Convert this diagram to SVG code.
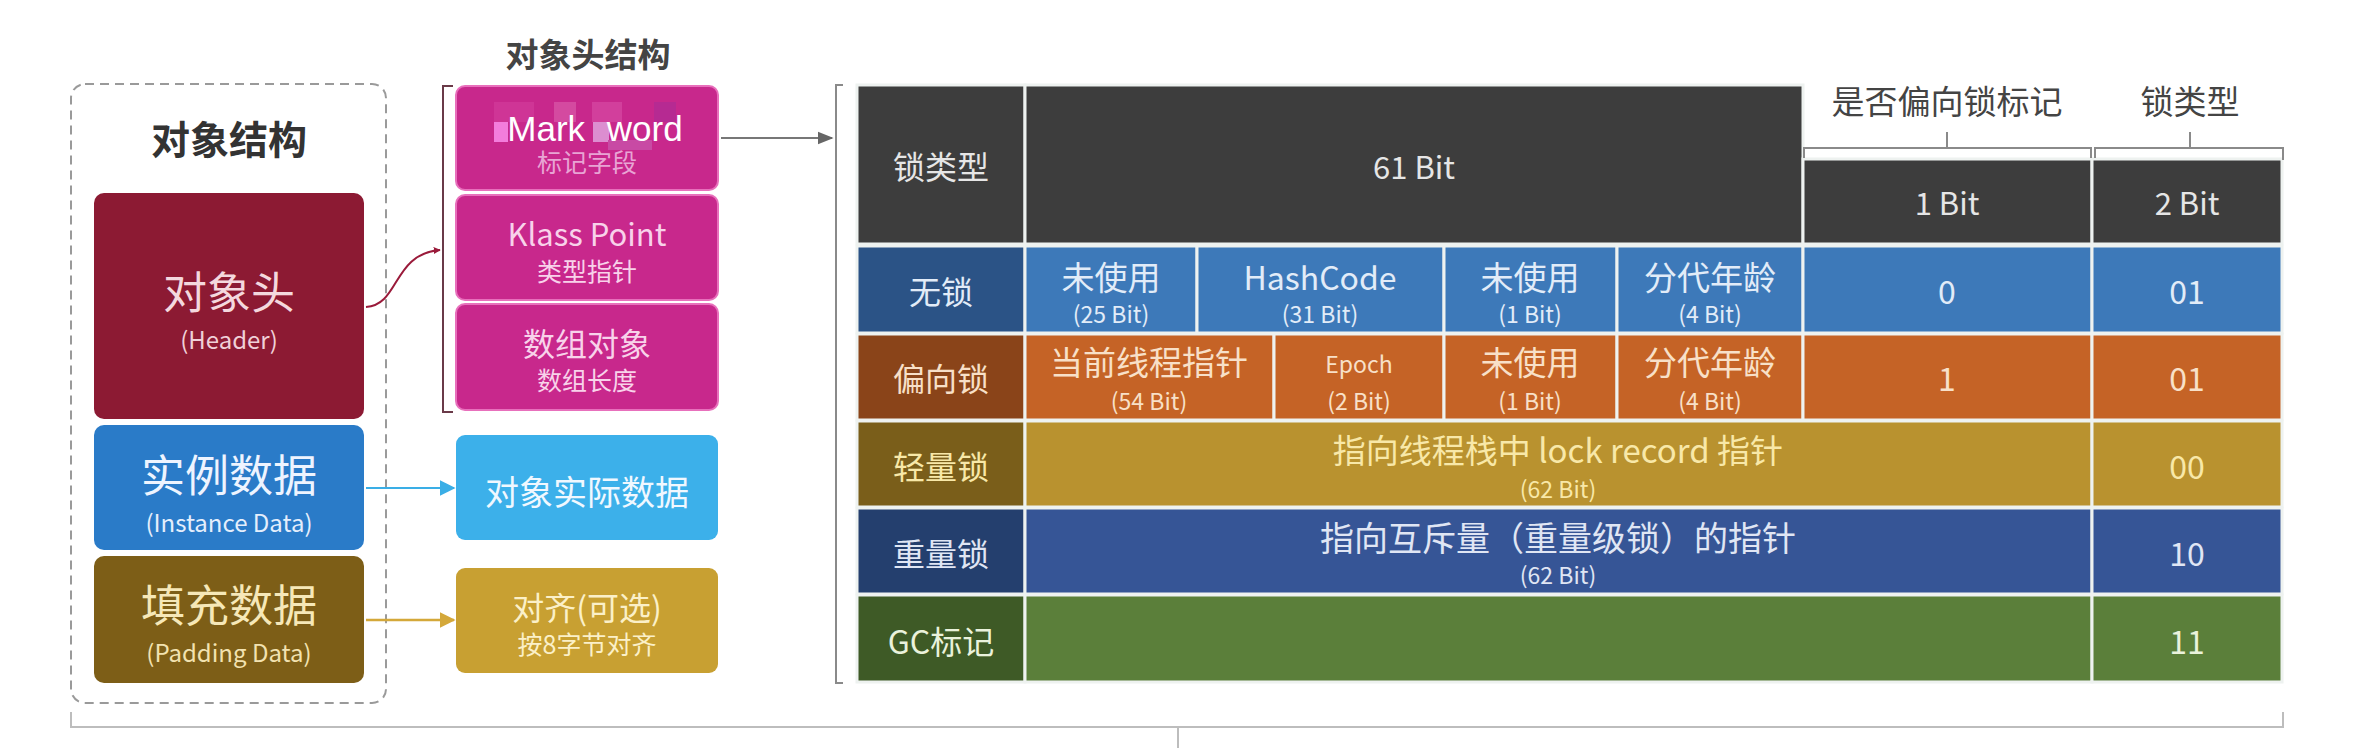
<svg xmlns="http://www.w3.org/2000/svg" width="2380" height="748" viewBox="0 0 2380 748">
<style>
text{font-family:"Noto Sans CJK SC","Noto Sans",sans-serif;text-anchor:middle;dominant-baseline:central}
.cell{stroke:#eef2f0;stroke-width:3}
.t30{font-size:32px}
.t33{font-size:33px}
.t20{font-size:23px}
.br{fill:none;stroke:#8a8a8a;stroke-width:2}
</style>
<defs>
<marker id="aRed" viewBox="0 0 10 10" refX="9" refY="5" markerWidth="7" markerHeight="7" orient="auto" markerUnits="userSpaceOnUse">
<path d="M0 0L10 5L0 10z" fill="#9a1a3a"/></marker>
<marker id="aGray" viewBox="0 0 10 10" refX="9" refY="5" markerWidth="16" markerHeight="16" orient="auto" markerUnits="userSpaceOnUse">
<path d="M0 1L10 5L0 9z" fill="#666"/></marker>
<marker id="aBlue" viewBox="0 0 10 10" refX="9" refY="5" markerWidth="16" markerHeight="20" orient="auto" markerUnits="userSpaceOnUse">
<path d="M0 0L10 5L0 10z" fill="#3aaee6"/></marker>
<marker id="aGold" viewBox="0 0 10 10" refX="9" refY="5" markerWidth="16" markerHeight="20" orient="auto" markerUnits="userSpaceOnUse">
<path d="M0 0L10 5L0 10z" fill="#d4a83a"/></marker>
</defs>
<rect width="2380" height="748" fill="#ffffff"/>

<g id="object-structure">
<rect x="71" y="84" width="315" height="619" rx="14" fill="none" stroke="#9a9a9a" stroke-width="2" stroke-dasharray="9 6"/>
<text x="229" y="137" style="font-size:39px;font-weight:bold;fill:#333">对象结构</text>
</g>
<g id="header">
<rect x="94" y="193" width="270" height="226" rx="10" fill="#8c1a33"/>
<text x="229" y="290" style="font-size:44px;fill:#f4d8de">对象头</text>
<text x="229" y="338" style="font-size:24px;fill:#f0d0d8">(Header)</text>
</g>
<g id="instance-data">
<rect x="94" y="425" width="270" height="125" rx="10" fill="#2a7bc8"/>
<text x="229" y="473" style="font-size:44px;fill:#eef4ff">实例数据</text>
<text x="229" y="521" style="font-size:24px;fill:#e4eefc">(Instance Data)</text>
</g>
<g id="padding-data">
<rect x="94" y="556" width="270" height="127" rx="10" fill="#7d5e17"/>
<text x="229" y="603" style="font-size:44px;fill:#f6e8b8">填充数据</text>
<text x="229" y="651" style="font-size:24px;fill:#f2e2b0">(Padding Data)</text>
</g>

<g id="header-structure">
<text x="588" y="53" style="font-size:33px;font-weight:bold;fill:#444">对象头结构</text>
<path d="M453 86H443V412H453" fill="none" stroke="#6a3a48" stroke-width="2"/>
</g>
<g id="mark-word">
<rect x="456" y="86" width="262" height="104" rx="9" fill="#c8288c" stroke="#e870bc" stroke-width="2"/>
<rect x="494" y="102" width="40" height="20" fill="#cf3596"/>
<rect x="554" y="102" width="22" height="20" fill="#d44aa0"/>
<rect x="592" y="102" width="30" height="20" fill="#d23f9c"/>
<rect x="654" y="102" width="22" height="20" fill="#b62a92"/>
<rect x="494" y="122" width="14" height="20" fill="#f37ddc"/>
<rect x="593" y="122" width="16" height="20" fill="#dc8ed0"/>
<rect x="608" y="140" width="44" height="10" fill="#c84aa4"/>
<text x="595" y="128" style="font-family:'Liberation Sans',Arial,sans-serif;font-size:35px;fill:#ffffff;word-spacing:12px">Mark word</text>
<text x="587" y="161" style="font-size:25px;fill:#e8a4d4">标记字段</text>
</g>
<g id="klass-point">
<rect x="456" y="195" width="262" height="105" rx="9" fill="#c8288c" stroke="#e870bc" stroke-width="2"/>
<text x="587" y="232" style="font-size:31px;fill:#f8d2ea">Klass Point</text>
<text x="587" y="270" style="font-size:25px;fill:#f8d2ea">类型指针</text>
</g>
<g id="array-object">
<rect x="456" y="304" width="262" height="106" rx="9" fill="#c8288c" stroke="#e870bc" stroke-width="2"/>
<text x="587" y="342" style="font-size:32px;fill:#f8d2ea">数组对象</text>
<text x="587" y="379" style="font-size:25px;fill:#f8d2ea">数组长度</text>
</g>
<g id="actual-data">
<rect x="456" y="435" width="262" height="105" rx="9" fill="#3cb0ea"/>
<text x="587" y="490" style="font-size:34px;fill:#f0f8ff">对象实际数据</text>
</g>
<g id="alignment">
<rect x="456" y="568" width="262" height="105" rx="9" fill="#c8a032"/>
<text x="587" y="606" style="font-size:32px;fill:#fbf0c8">对齐(可选)</text>
<text x="587" y="643" style="font-size:25px;fill:#fbf0c8">按8字节对齐</text>
</g>

<g id="mark-word-table">
<path class="br" d="M843 85H836V683H843"/>
<rect class="cell" x="857" y="85" width="168" height="159" fill="#3d3d3d"/>
<rect class="cell" x="1025" y="85" width="778" height="159" fill="#3d3d3d"/>
<rect class="cell" x="1803" y="159" width="289" height="85" fill="#3d3d3d"/>
<rect class="cell" x="2092" y="159" width="190" height="85" fill="#3d3d3d"/>
<text x="941" y="165" class="t30" fill="#e6e6e6">锁类型</text>
<text x="1414" y="165" style="font-size:31px;fill:#e6e6e6">61 Bit</text>
<text x="1947" y="201" style="font-size:31px;fill:#e6e6e6">1 Bit</text>
<text x="2187" y="201" style="font-size:31px;fill:#e6e6e6">2 Bit</text>
<text x="1947" y="100" class="t33" fill="#444">是否偏向锁标记</text>
<text x="2190" y="100" class="t33" fill="#444">锁类型</text>
<path class="br" d="M1804 158V148H2091V158M1947 148V132"/>
<path class="br" d="M2095 158V148H2283V160M2190 148V132"/>

<rect class="cell" x="857" y="246" width="168" height="87" fill="#2b5386"/>
<rect class="cell" x="1025" y="246" width="172" height="87" fill="#3d79b9"/>
<rect class="cell" x="1197" y="246" width="247" height="87" fill="#3d79b9"/>
<rect class="cell" x="1444" y="246" width="173" height="87" fill="#3d79b9"/>
<rect class="cell" x="1617" y="246" width="186" height="87" fill="#3d79b9"/>
<rect class="cell" x="1803" y="246" width="289" height="87" fill="#3d79b9"/>
<rect class="cell" x="2092" y="246" width="190" height="87" fill="#3d79b9"/>
<g fill="#e2ecf8">
<text x="941" y="290" class="t30">无锁</text>
<text x="1111" y="276" class="t33">未使用</text><text x="1111" y="313" class="t20">(25 Bit)</text>
<text x="1320" y="276" style="font-size:32px">HashCode</text><text x="1320" y="313" class="t20">(31 Bit)</text>
<text x="1530" y="276" class="t33">未使用</text><text x="1530" y="313" class="t20">(1 Bit)</text>
<text x="1710" y="276" class="t33">分代年龄</text><text x="1710" y="313" class="t20">(4 Bit)</text>
<text x="1947" y="290" class="t30">0</text>
<text x="2187" y="290" class="t30">01</text>
</g>

<rect class="cell" x="857" y="334" width="168" height="86" fill="#8a4419"/>
<rect class="cell" x="1025" y="334" width="249" height="86" fill="#c56326"/>
<rect class="cell" x="1274" y="334" width="170" height="86" fill="#c56326"/>
<rect class="cell" x="1444" y="334" width="173" height="86" fill="#c56326"/>
<rect class="cell" x="1617" y="334" width="186" height="86" fill="#c56326"/>
<rect class="cell" x="1803" y="334" width="289" height="86" fill="#c56326"/>
<rect class="cell" x="2092" y="334" width="190" height="86" fill="#c56326"/>
<g fill="#f8e0c8">
<text x="941" y="377" class="t30">偏向锁</text>
<text x="1149" y="361" class="t33">当前线程指针</text><text x="1149" y="400" class="t20">(54 Bit)</text>
<text x="1359" y="363" style="font-size:23px">Epoch</text><text x="1359" y="400" class="t20">(2 Bit)</text>
<text x="1530" y="361" class="t33">未使用</text><text x="1530" y="400" class="t20">(1 Bit)</text>
<text x="1710" y="361" class="t33">分代年龄</text><text x="1710" y="400" class="t20">(4 Bit)</text>
<text x="1947" y="377" class="t30">1</text>
<text x="2187" y="377" class="t30">01</text>
</g>

<rect class="cell" x="857" y="421" width="168" height="86" fill="#7a5e1a"/>
<rect class="cell" x="1025" y="421" width="1067" height="86" fill="#b9922f"/>
<rect class="cell" x="2092" y="421" width="190" height="86" fill="#b9922f"/>
<g fill="#f8e8a8">
<text x="941" y="465" class="t30">轻量锁</text>
<text x="1558" y="449" class="t33">指向线程栈中 lock record 指针</text>
<text x="1558" y="488" class="t20">(62 Bit)</text>
<text x="2187" y="465" class="t30">00</text>
</g>

<rect class="cell" x="857" y="508" width="168" height="86" fill="#243f6e"/>
<rect class="cell" x="1025" y="508" width="1067" height="86" fill="#365596"/>
<rect class="cell" x="2092" y="508" width="190" height="86" fill="#365596"/>
<g fill="#e0e6f4">
<text x="941" y="552" class="t30">重量锁</text>
<text x="1558" y="536" style="font-size:34px">指向互斥量（重量级锁）的指针</text>
<text x="1558" y="574" class="t20">(62 Bit)</text>
<text x="2187" y="552" class="t30">10</text>
</g>

<rect class="cell" x="857" y="595" width="168" height="87" fill="#3e5a26"/>
<rect class="cell" x="1025" y="595" width="1067" height="87" fill="#5b7f3a"/>
<rect class="cell" x="2092" y="595" width="190" height="87" fill="#5b7f3a"/>
<g fill="#eaf2dc">
<text x="941" y="640" class="t30">GC标记</text>
<text x="2187" y="640" class="t30">11</text>
</g>
</g>

<g id="connectors">
<path d="M366 307C400 305 392 254 440 250" fill="none" stroke="#9a1a3a" stroke-width="2" marker-end="url(#aRed)"/>
<path d="M721 138H832" fill="none" stroke="#777" stroke-width="2" marker-end="url(#aGray)"/>
<path d="M366 488H454" fill="none" stroke="#3aaee6" stroke-width="2" marker-end="url(#aBlue)"/>
<path d="M366 620H454" fill="none" stroke="#d4a83a" stroke-width="2.5" marker-end="url(#aGold)"/>
<path d="M71 712V727H2283V712M1178 727V748" fill="none" stroke="#bdbdbd" stroke-width="2"/>
</g>
</svg>
